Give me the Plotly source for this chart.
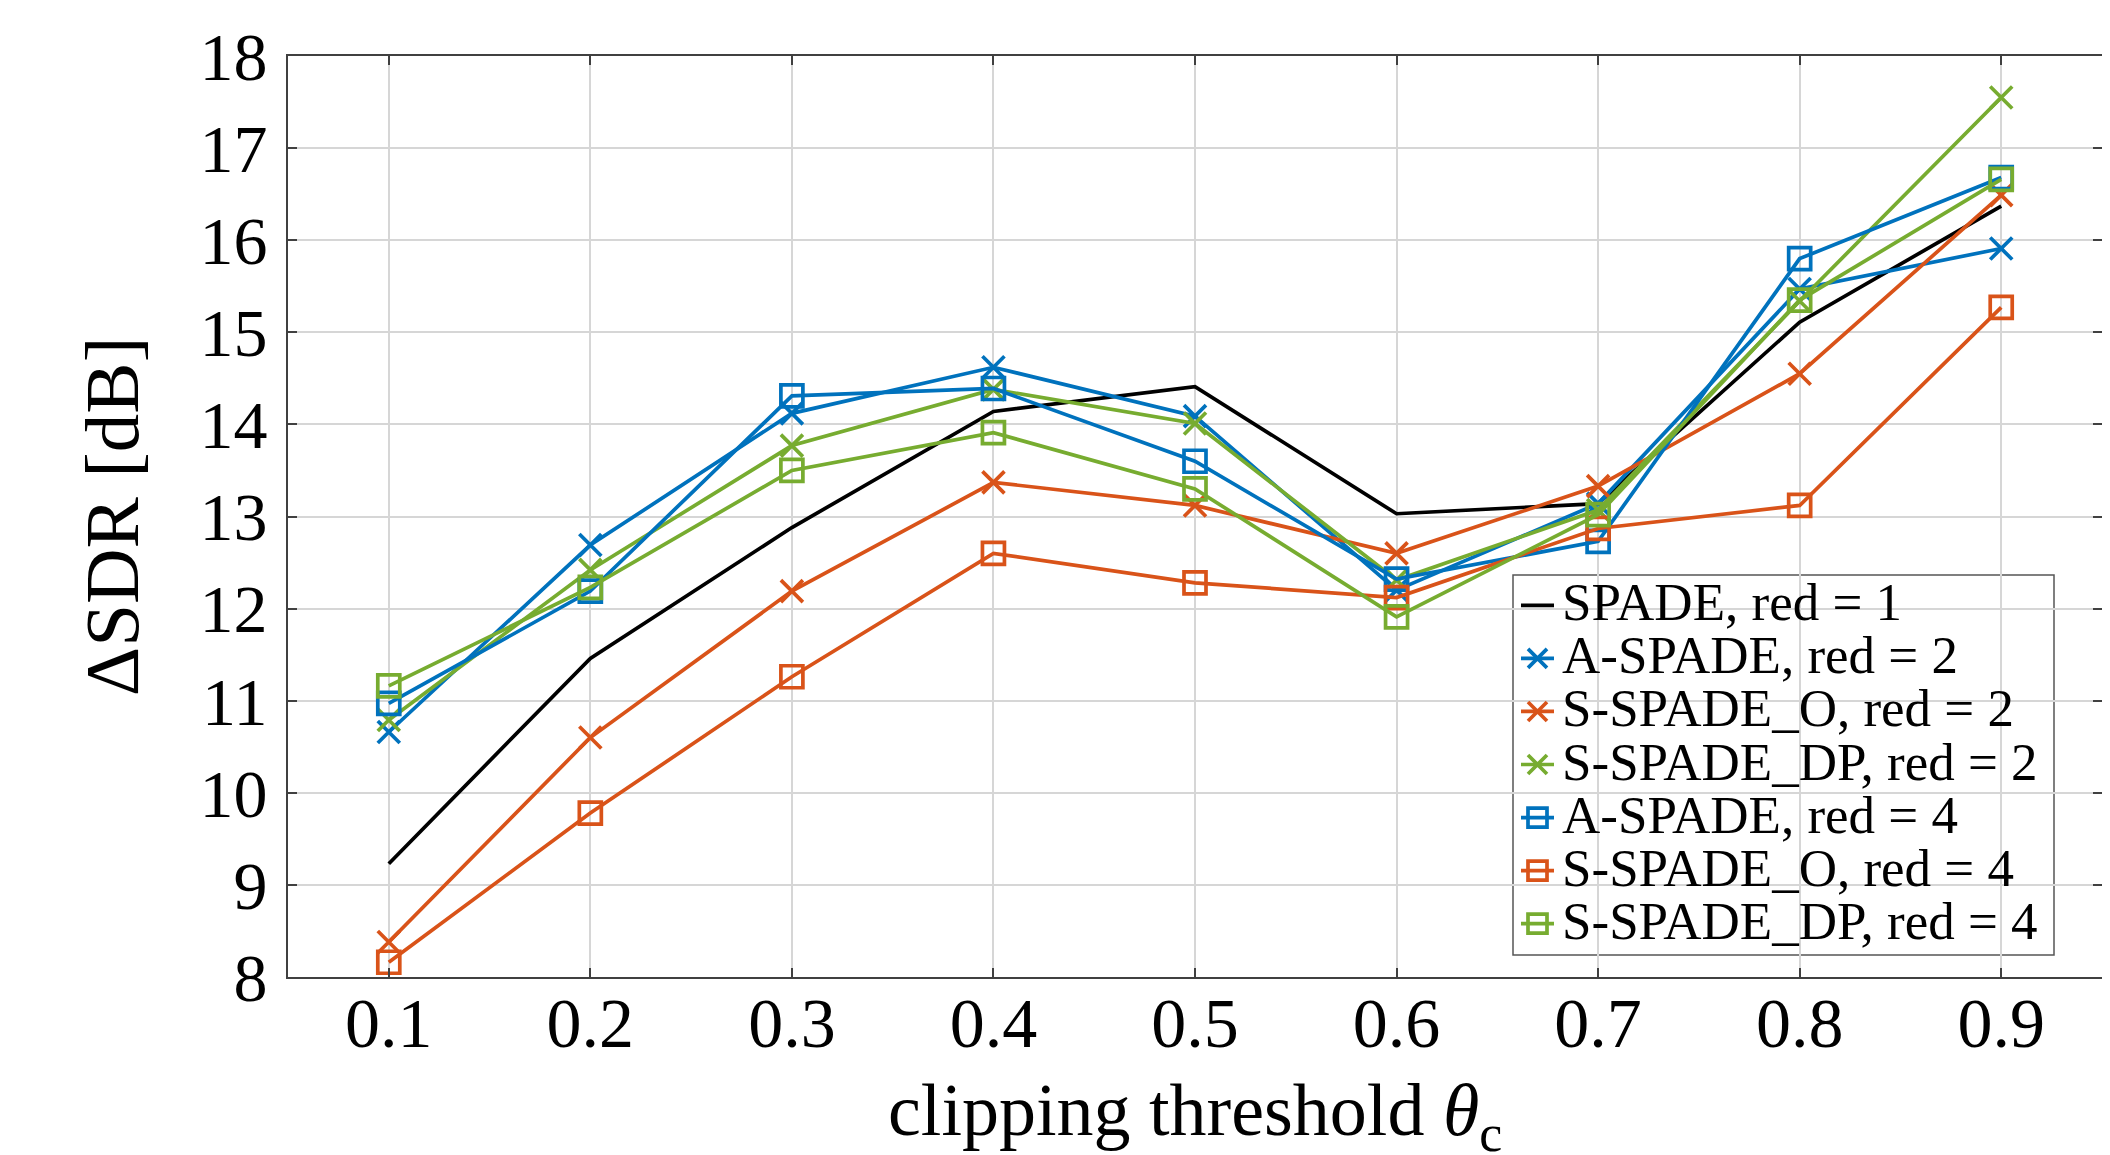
import plotly.graph_objects as go

# ---------------- data ----------------
theta = [0.1, 0.2, 0.3, 0.4, 0.5, 0.6, 0.7, 0.8, 0.9]
x_tick_labels = ["0.1", "0.2", "0.3", "0.4", "0.5", "0.6", "0.7", "0.8", "0.9"]
y_tick_values = [8, 9, 10, 11, 12, 13, 14, 15, 16, 17, 18]

spade_red1 = [9.23, 11.46, 12.88, 14.14, 14.41, 13.03, 13.14, 15.11, 16.37]
aspade_red2 = [10.66, 12.69, 14.12, 14.62, 14.09, 12.20, 13.14, 15.47, 15.91]
sspade_o_red2 = [8.38, 10.60, 12.19, 13.37, 13.12, 12.60, 13.33, 14.55, 16.49]
sspade_dp_red2 = [10.79, 12.42, 13.77, 14.38, 14.01, 12.31, 13.07, 15.34, 17.55]
aspade_red4 = [10.97, 12.19, 14.31, 14.39, 13.60, 12.32, 12.73, 15.80, 16.68]
sspade_o_red4 = [8.16, 9.78, 11.26, 12.60, 12.28, 12.12, 12.87, 13.12, 15.27]
sspade_dp_red4 = [11.16, 12.23, 13.50, 13.91, 13.30, 11.91, 13.02, 15.35, 16.66]

series_names = [
    "SPADE, red = 1",
    "A-SPADE, red = 2",
    "S-SPADE_O, red = 2",
    "S-SPADE_DP, red = 2",
    "A-SPADE, red = 4",
    "S-SPADE_O, red = 4",
    "S-SPADE_DP, red = 4",
]
series_values = [spade_red1, aspade_red2, sspade_o_red2, sspade_dp_red2,
                 aspade_red4, sspade_o_red4, sspade_dp_red4]

x_title = "clipping threshold <i>θ</i><sub>c</sub>"
y_title = "ΔSDR [dB]"

# ---------------- styles ----------------
BLUE, ORANGE, GREEN, BLACK = "#0072BD", "#D95319", "#77AC30", "#000000"
series_colors = [BLACK, BLUE, ORANGE, GREEN, BLUE, ORANGE, GREEN]
series_symbols = [None, "x-thin", "x-thin", "x-thin", "square-open", "square-open", "square-open"]

FONT = "Liberation Serif"
OFF = 8                       # page body margin of the html page
W, H = 2110 - OFF, 1155 - OFF  # figure size so that it fits the window exactly
# plot area in page pixels
PL, PR, PT, PB = 288, 2102, 56, 977
ML, MT = PL - OFF, PT - OFF
MR, MB = W - (PR - OFF), H - (PB - OFF)
X_RANGE = [0.05, 0.95]
Y_RANGE = [8, 18]
PW, PH = PR - PL, PB - PT
LW = 3.7


def px2x(px):
    return X_RANGE[0] + (px - PL) / PW * (X_RANGE[1] - X_RANGE[0])


def py2y(py):
    return Y_RANGE[1] - (py - PT) / PH * (Y_RANGE[1] - Y_RANGE[0])


def px2paper(px):
    return (px - PL) / PW


def py2paper(py):
    return (PB - py) / PH


fig = go.Figure()

for name, vals, col, sym in zip(series_names, series_values, series_colors, series_symbols):
    if sym is None:
        fig.add_trace(go.Scatter(x=theta, y=vals, name=name, mode="lines",
                                 line=dict(color=col, width=LW),
                                 showlegend=False, cliponaxis=False))
    else:
        fig.add_trace(go.Scatter(
            x=theta, y=vals, name=name, mode="lines+markers",
            line=dict(color=col, width=LW),
            marker=dict(symbol=sym, size=22, color=col, line=dict(width=LW, color=col)),
            showlegend=False, cliponaxis=False,
        ))

# ---------------- hand-built legend (MATLAB style) ----------------
LEG_L, LEG_R, LEG_T, LEG_B = 1513, 2054, 575, 955
ROW0_BASE, ROW_STEP = 618.3, 53.07
SYM_X0, SYM_X1 = 1521, 1554
TEXT_X = 1560

shapes = [dict(type="rect", xref="paper", yref="paper",
               x0=px2paper(LEG_L), x1=px2paper(LEG_R),
               y0=py2paper(LEG_B), y1=py2paper(LEG_T),
               fillcolor="white", line=dict(color="#555555", width=1.5),
               layer="between")]

annotations = []
for i, (name, col, sym) in enumerate(zip(series_names, series_colors, series_symbols)):
    base = ROW0_BASE + ROW_STEP * i
    yy = py2y(base - 13)
    fig.add_trace(go.Scatter(
        x=[px2x(SYM_X0), px2x(SYM_X1)], y=[yy, yy], mode="lines",
        line=dict(color=col, width=LW), showlegend=False,
        hoverinfo="skip", cliponaxis=False))
    if sym is not None:
        fig.add_trace(go.Scatter(
            x=[px2x((SYM_X0 + SYM_X1) / 2)], y=[yy], mode="markers",
            marker=dict(symbol=sym, size=19, color=col, line=dict(width=LW, color=col)),
            showlegend=False, hoverinfo="skip", cliponaxis=False))
    annotations.append(dict(
        x=px2paper(TEXT_X), y=py2paper(base - 16), xref="paper", yref="paper",
        xanchor="left", yanchor="middle", showarrow=False, text=name,
        font=dict(family=FONT, size=53, color="black"),
    ))

# x-axis title as an annotation (placed lower than plotly's margin-constrained title)
X_TITLE_TOP = 1067
annotations.append(dict(
    x=0.5, y=py2paper(X_TITLE_TOP), xref="paper", yref="paper",
    xanchor="center", yanchor="top", showarrow=False, text=x_title,
    font=dict(family=FONT, size=74, color="black"),
))

fig.update_layout(
    width=W, height=H,
    margin=dict(l=ML, r=MR, t=MT, b=MB, pad=0),
    paper_bgcolor="white", plot_bgcolor="white",
    font=dict(family=FONT, color="black"),
    showlegend=False,
    shapes=shapes,
    annotations=annotations,
)

fig.update_xaxes(
    range=X_RANGE, tickvals=theta, ticktext=x_tick_labels,
    showgrid=True, gridcolor="#d6d6d6", gridwidth=1.5,
    showline=True, linecolor="#404040", linewidth=1.7, mirror="ticks",
    ticks="inside", ticklen=9, tickcolor="#404040", tickwidth=1.5,
    tickfont=dict(family=FONT, size=70), ticklabelstandoff=-16,
    zeroline=False, automargin=False,
)
fig.update_yaxes(
    range=Y_RANGE, tickvals=y_tick_values,
    showgrid=True, gridcolor="#d6d6d6", gridwidth=1.5,
    showline=True, linecolor="#404040", linewidth=1.7, mirror="ticks",
    ticks="inside", ticklen=9, tickcolor="#404040", tickwidth=1.5,
    tickfont=dict(family=FONT, size=68), ticklabelstandoff=5,
    zeroline=False, automargin=False,
    title=dict(text=y_title, font=dict(family=FONT, size=77), standoff=36),
)

fig.write_html("out.html")
